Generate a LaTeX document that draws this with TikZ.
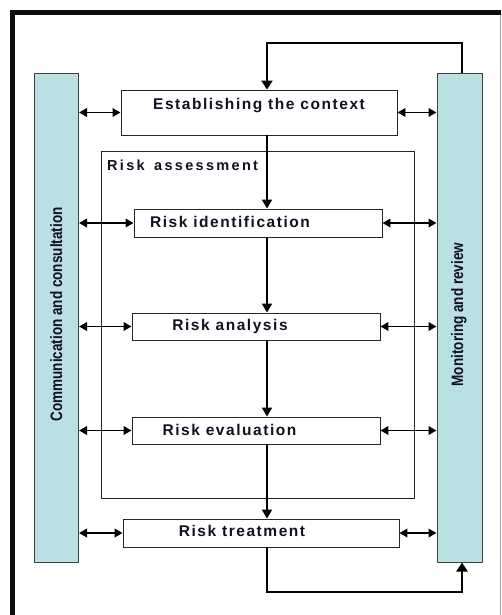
\documentclass[tikz,border=0pt]{standalone}
\usepackage{fontspec}
\setmainfont{Liberation Sans}
\newfontfamily\stepfont[LetterSpace=10]{Liberation Sans}
\newfontfamily\widefont[LetterSpace=16]{Liberation Sans}
\usetikzlibrary{arrows.meta}
\definecolor{barfill}{RGB}{186,224,228}
\definecolor{ink}{RGB}{16,16,32}

\begin{document}
\begin{tikzpicture}[x=1pt,y=-1pt,
  box/.style={draw=black!85, line width=0.9pt, fill=white, rectangle, inner sep=0pt},
  bar/.style={draw=black!75, line width=1pt, fill=barfill, rectangle, inner sep=0pt,
    minimum width=44pt, minimum height=488pt},
  steptext/.style={font=\stepfont\bfseries\fontsize{15.5}{18}\selectfont, text=ink,
    anchor=base, inner sep=0pt},
  sidetext/.style={font=\bfseries\fontsize{16.5}{19}\selectfont, text=ink,
    rotate=90, anchor=base, inner sep=0pt},
  flow/.style={line width=2pt, -{Triangle[length=9pt,width=10pt]}},
  dbl/.style={line width=1.9pt, {Triangle[length=8pt,width=8.5pt]}-{Triangle[length=8pt,width=8.5pt]}},
  loopline/.style={line width=2.6pt, -{Triangle[length=9pt,width=11pt]}}]

\useasboundingbox (0,0) rectangle (501,615);
\fill[white] (0,0) rectangle (501,615);

% outer frame
\draw[line width=5pt, black!95] (12.5,615) -- (12.5,12.5) -- (501,12.5);
\draw[black!35, line width=0.8pt] (500.3,15) -- (500.3,615);

% side bars
\node[bar] (cc) at (56.5,318) {};
\node[bar, minimum width=45pt] (mr) at (459.5,318) {};

% process boxes
\node[box, minimum width=313pt, minimum height=347pt] (ra) at (257.5,324.5) {};
\node[box, minimum width=276pt, minimum height=45pt] (ctx) at (259,112.5) {};
\node[box, minimum width=248pt, minimum height=28pt] (rid) at (258,223) {};
\node[box, minimum width=248pt, minimum height=27pt] (ran) at (256,326.5) {};
\node[box, minimum width=248pt, minimum height=27pt] (rev) at (256,430.5) {};
\node[box, minimum width=276pt, minimum height=28pt] (rtr) at (261,533) {};

% labels
\node[steptext] (ctxt) at (259,110) {Establishing the context};
\node[steptext] (ridt) at (230,227) {Risk identification};
\node[steptext] (rant) at (230,330) {Risk analysis};
\node[steptext] (revt) at (229.5,435) {Risk evaluation};
\node[steptext] (rtrt) at (242,536) {Risk treatment};
\node[font=\widefont\bfseries\fontsize{14.5}{17}\selectfont, text=ink, anchor=base west,
  inner sep=0pt] (rat) at (107,170) {Risk\hspace{3pt} assessment};
\node[sidetext] (cct) at (62,314.5) {\scalebox{0.82}[1]{Communication and consultation}};
\node[sidetext] (mrt) at (463,314.5) {\scalebox{0.82}[1]{Monitoring and review}};

% helper coordinates for the connector routes
\coordinate (spine) at (267,0);
\coordinate (loopx) at (462,0);
\coordinate (topy) at (0,43);
\coordinate (boty) at (0,592);

% main flow
\draw[flow] (ctx.south -| spine) -- (rid.north -| spine);
\draw[flow] (rid.south -| spine) -- (ran.north -| spine);
\draw[flow] (ran.south -| spine) -- (rev.north -| spine);
\draw[flow] (rev.south -| spine) -- (rtr.north -| spine);

% exchanges with the side bars
\foreach \b in {ctx,rid,ran,rev,rtr} {
  \draw[dbl] (cc.east |- \b.west) -- (\b.west);
  \draw[dbl] (\b.east) -- (mr.west |- \b.east);
}

% feedback loops
\draw[loopline] (mr.north -| loopx) -- (loopx |- topy) -| (ctx.north -| spine);
\draw[loopline] (rtr.south -| spine) -- (spine |- boty) -| (mr.south -| loopx);
\end{tikzpicture}
\end{document}
